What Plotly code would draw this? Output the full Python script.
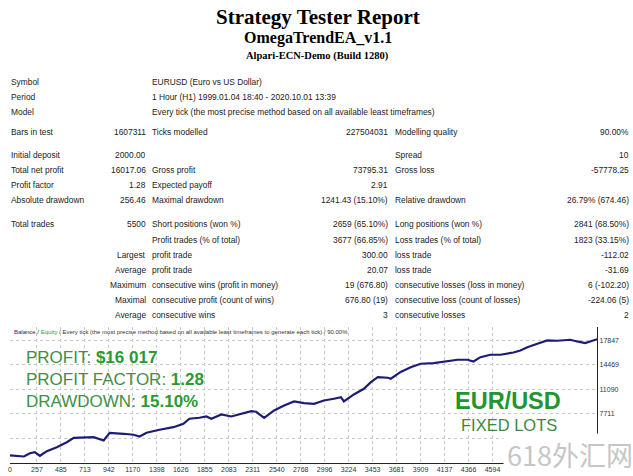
import plotly.graph_objects as go

# report header
report_title = "Strategy Tester Report"
expert_name = "OmegaTrendEA_v1.1"
server_name = "Alpari-ECN-Demo (Build 1280)"

# info block
info_labels = ["Symbol", "Period", "Model"]
info_values = ["EURUSD (Euro vs US Dollar)",
               "1 Hour (H1) 1999.01.04 18:40 - 2020.10.01 13:39",
               "Every tick (the most precise method based on all available least timeframes)"]

# stats table, one tuple per row: label, value, label, value, label, value
stat_rows = [
    ("Bars in test", "1607311", "Ticks modelled", "227504031", "Modelling quality", "90.00%"),
    ("Initial deposit", "2000.00", "", "", "Spread", "10"),
    ("Total net profit", "16017.06", "Gross profit", "73795.31", "Gross loss", "-57778.25"),
    ("Profit factor", "1.28", "Expected payoff", "2.91", "", ""),
    ("Absolute drawdown", "256.46", "Maximal drawdown", "1241.43 (15.10%)", "Relative drawdown", "26.79% (674.46)"),
    ("Total trades", "5500", "Short positions (won %)", "2659 (65.10%)", "Long positions (won %)", "2841 (68.50%)"),
    ("", "", "Profit trades (% of total)", "3677 (66.85%)", "Loss trades (% of total)", "1823 (33.15%)"),
    ("", "Largest", "profit trade", "300.00", "loss trade", "-112.02"),
    ("", "Average", "profit trade", "20.07", "loss trade", "-31.69"),
    ("", "Maximum", "consecutive wins (profit in money)", "19 (676.80)", "consecutive losses (loss in money)", "6 (-102.20)"),
    ("", "Maximal", "consecutive profit (count of wins)", "676.80 (19)", "consecutive loss (count of losses)", "-224.06 (5)"),
    ("", "Average", "consecutive wins", "3", "consecutive losses", "2"),
]

# balance curve
trade_no = [0, 66, 133, 190, 237, 285, 351, 446, 541, 607, 664, 797, 892, 949, 1082,
            1177, 1234, 1300, 1424, 1556, 1651, 1708, 1803, 1870, 1917, 2012, 2107, 2202,
            2297, 2344, 2420, 2515, 2610, 2705, 2800, 2895, 2989, 3084, 3151, 3179, 3274,
            3369, 3436, 3502, 3597, 3626, 3720, 3815, 3910, 4033, 4166, 4261, 4356, 4413,
            4479, 4574, 4669, 4736, 4793, 4859, 4926, 5021, 5115, 5210, 5334, 5400, 5476,
            5552, 5590]
balance = [2000, 1947, 1851, 2306, 2444, 1947, 2581, 3133, 3823, 4429, 4480, 4512, 4057,
           5119, 4981, 4843, 4609, 5119, 5533, 5891, 6360, 7049, 7187, 7367, 7049, 7642,
           7367, 7739, 8097, 8015, 7187, 8194, 8883, 9435, 9201, 9118, 9573, 9807, 10028,
           9435, 10400, 11186, 12097, 12786, 12703, 12565, 13503, 14165, 14634, 14717,
           14951, 15186, 15186, 14951, 15544, 15875, 15875, 16013, 16192, 16468, 16923,
           17392, 17847, 17806, 17944, 17709, 17475, 17847, 18017]

x_ticks = [0, 257, 485, 713, 942, 1170, 1398, 1626, 1855, 2083, 2311, 2540, 2768, 2996,
           3224, 3453, 3681, 3909, 4137, 4366, 4594]
y_ticks = [4332, 7711, 11090, 14469, 17847]

W, H = 633, 476


def px(x):
    return x / W


def py(y):
    return 1 - y / H


TABLE_FONT = "Liberation Sans"
TS = 8.4
TXT = "#222222"

fig = go.Figure()
fig.add_trace(go.Scatter(x=trade_no, y=balance, mode="lines",
                         line=dict(color="#1c1c78", width=2.2), hoverinfo="skip"))

ann = []
ann.append(dict(x=0.5, y=py(17), text="<b>" + report_title + "</b>",
                font=dict(family="Liberation Serif", size=21, color="#000")))
ann.append(dict(x=0.5, y=py(38), text="<b>" + expert_name + "</b>",
                font=dict(family="Liberation Serif", size=16, color="#000")))
ann.append(dict(x=0.5, y=py(56), text="<b>" + server_name + "</b>",
                font=dict(family="Liberation Serif", size=10.5, color="#000")))

for lab, val, yy in zip(info_labels, info_values, [82, 97, 112]):
    ann.append(dict(x=px(7), y=py(yy), text=lab, xanchor="left",
                    font=dict(family=TABLE_FONT, size=TS, color=TXT)))
    ann.append(dict(x=px(148), y=py(yy), text=val, xanchor="left",
                    font=dict(family=TABLE_FONT, size=TS, color=TXT)))

row_y = [132, 155, 170, 185, 200, 224, 240, 255, 270, 285, 300, 315]
col_x = [(7, "left"), (146, "right"), (148, "left"), (389, "right"), (392, "left"), (631, "right")]
for row, yy in zip(stat_rows, row_y):
    for cell, (cx, anchor) in zip(row, col_x):
        if cell:
            ann.append(dict(x=px(cx), y=py(yy), text=cell, xanchor=anchor,
                            font=dict(family=TABLE_FONT, size=TS, color=TXT)))

# chart caption
ann.append(dict(x=px(10), y=py(332),
                text="<span style='color:#1c1c78'>Balance</span> / <span style='color:#2e9e3e'>Equity</span>"
                     " / Every tick (the most precise method based on all available least timeframes to generate each tick) / 90.00%",
                xanchor="left", font=dict(family=TABLE_FONT, size=6, color="#333")))

G1, G2 = "#3f8f46", "#2a9a34"
BIG = "Liberation Sans"
ann.append(dict(x=px(22), y=py(357), xanchor="left",
                text="<span style='color:%s'>PROFIT: </span><b>$16 017</b>" % G1,
                font=dict(family=BIG, size=17, color=G2)))
ann.append(dict(x=px(22), y=py(379), xanchor="left",
                text="<span style='color:%s'>PROFIT FACTOR: </span><b>1.28</b>" % G1,
                font=dict(family=BIG, size=17, color=G2)))
ann.append(dict(x=px(22), y=py(401), xanchor="left",
                text="<span style='color:%s'>DRAWDOWN: </span><b>15.10%%</b>" % G1,
                font=dict(family=BIG, size=17, color=G2)))
ann.append(dict(x=px(508), y=py(401), text="<b>EUR/USD</b>",
                font=dict(family=BIG, size=23.5, color="#22962e")))
ann.append(dict(x=px(509), y=py(425), text="FIXED LOTS",
                font=dict(family=BIG, size=16.5, color="#3a8a42")))

for a in ann:
    a.setdefault("xanchor", "center")
    a.update(xref="paper", yref="paper", yanchor="middle", showarrow=False)

# watermark box in the bottom-right corner
ann.append(dict(x=px(503), y=0, xref="paper", yref="paper", xanchor="left", yanchor="bottom",
                width=130, height=39, bgcolor="white", showarrow=False, text="618外汇网",
                font=dict(family="Noto Sans CJK SC", size=27, color="#c6c6c6")))

red = dict(color="#d42a2a", width=2)
shapes = [
    dict(type="line", x0=px(148), x1=px(260), y0=py(88.5), y1=py(88.5), line=red),
    dict(type="line", x0=px(589), x1=px(631), y0=py(140), y1=py(140), line=red),
    dict(type="line", x0=px(105), x1=px(146), y0=py(177.5), y1=py(177.5), line=red),
    dict(type="line", x0=px(127), x1=px(146), y0=py(192.5), y1=py(192.5), line=red),
    dict(type="line", x0=px(322), x1=px(386), y0=py(209), y1=py(209), line=red),
    # chart frame
    dict(type="line", x0=px(8), x1=px(631), y0=py(326.5), y1=py(326.5),
         line=dict(color="#555", width=1)),
    dict(type="line", x0=px(8), x1=px(8), y0=py(326.5), y1=py(463),
         line=dict(color="#555", width=1)),
]

fig.update_layout(
    width=W, height=H,
    margin=dict(l=0, r=0, t=0, b=0),
    paper_bgcolor="white", plot_bgcolor="white",
    showlegend=False,
    annotations=ann, shapes=shapes,
    xaxis=dict(domain=[px(8), px(597)], range=[0, 5590], tickvals=x_ticks,
               ticktext=[str(v) for v in x_ticks], showline=True, linecolor="#222",
               linewidth=1, showgrid=True, gridcolor="#c8c8c8", griddash="dot",
               zeroline=False, ticks="", tickfont=dict(family=TABLE_FONT, size=7, color="#333")),
    yaxis=dict(domain=[py(463), py(326.5)], range=[953, 19770], side="right",
               tickvals=y_ticks, ticktext=[str(v) for v in y_ticks], showline=True,
               linecolor="#222", linewidth=1, showgrid=True, gridcolor="#c8c8c8",
               griddash="dot", zeroline=False, ticks="",
               tickfont=dict(family=TABLE_FONT, size=7, color="#333")),
)

fig.write_html("out.html", config={"displayModeBar": False},
               post_script="document.body.style.margin='0';")
